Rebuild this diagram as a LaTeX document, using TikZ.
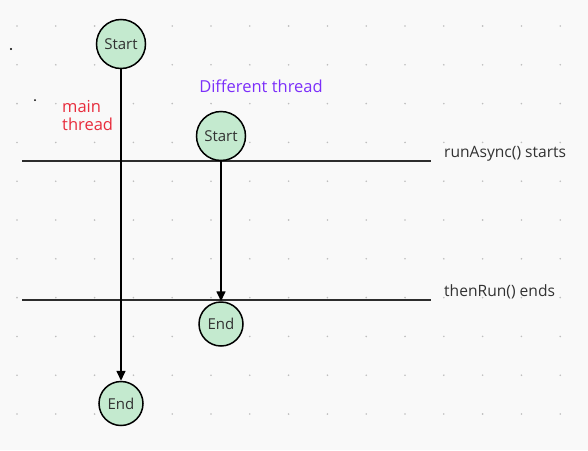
\documentclass[tikz,border=0pt]{standalone}
\usepackage{fontspec}
\setmainfont{Open Sans}
\usetikzlibrary{arrows.meta}
\definecolor{bg}{RGB}{249,249,249}
\definecolor{nodefill}{RGB}{196,234,207}
\definecolor{gridc}{RGB}{190,190,190}
\definecolor{txt}{RGB}{50,50,50}
\definecolor{mainred}{RGB}{232,44,60}
\definecolor{purp}{RGB}{124,47,250}
\definecolor{linec}{RGB}{45,45,45}
\tikzset{
  statenode/.style={circle, draw=black, line width=1.5pt, fill=nodefill, inner sep=0pt, text=txt, font=\fontsize{15}{17}\selectfont},
  bignode/.style={statenode, minimum size=49pt},
  smallnode/.style={statenode, minimum size=44pt},
  flow/.style={draw=black, line width=1.6pt, -{Triangle[length=10pt,width=9pt]}},
  marker/.style={draw=linec, line width=1.8pt},
  label/.style={text=txt, font=\fontsize{15.6}{18}\selectfont, anchor=west, inner sep=0pt},
}
\begin{document}
\begin{tikzpicture}[x=1pt,y=-1pt]
\fill[bg] (0,0) rectangle (588,450);
\useasboundingbox (0,0) rectangle (588,450);
% dotted grid
\foreach \i in {0,...,14}{
  \foreach \j in {0,...,10}{
    \fill[gridc] ({17+38.8*\i},{26+38.8*\j}) circle (0.9);
  }
}
% stray marks
\fill[black] (11,49) circle (1.1);
\fill[black] (35,100) circle (1.0);
% horizontal markers
\coordinate (l1a) at (22,161);
\coordinate (l1b) at (431,161);
\coordinate (l2a) at (22,300);
\coordinate (l2b) at (431,300);
\draw[marker] (l1a) -- (l1b);
\draw[marker] (l2a) -- (l2b);
\node[label] (lab1) at (444,154) {runAsync() starts};
\node[label] (lab2) at (444,292) {thenRun() ends};
% nodes
\node[bignode] (s1) at (121,44) {Start};
\node[bignode] (s2) at (221,136) {Start};
\node[smallnode] (e1) at (221,324) {End};
\node[smallnode] (e2) at (121,403.5) {End};
\draw[flow] (s1) -- (e2);
\draw[flow] (s2) -- (e1);
% thread labels
\node[text=mainred, font=\fontsize{16.5}{18}\selectfont, align=left, anchor=north west, inner sep=0pt] (mt) at (62,100) {main\\thread};
\node[text=purp, font=\fontsize{16.5}{18}\selectfont, inner sep=0pt] (dt) at (261,86) {Different thread};
\end{tikzpicture}
\end{document}
